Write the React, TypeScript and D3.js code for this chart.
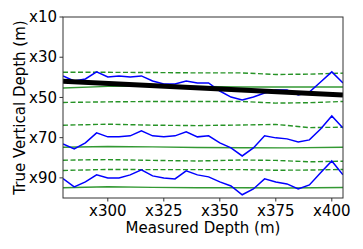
import * as d3 from "d3";

// measured depth samples (5 m spacing)
const md = [280, 285, 290, 295, 300, 305, 310, 315, 320, 325, 330, 335, 340, 345, 350, 355, 360, 365, 370, 375, 380, 385, 390, 395, 400, 405];

// picked horizons (blue)
const pickTop = [39.3, 41.8, 40.8, 37.3, 39.8, 39.3, 39.8, 39.3, 41.8, 43.3, 43.3, 41.8, 42.8, 42.8, 46.8, 49.8, 51.2, 49.8, 47.8, 46.3, 46.3, 48.8, 47.3, 42.3, 37.3, 42.8];
const pickMid = [73.1, 75.6, 72.6, 67.6, 69.6, 69.6, 69.1, 66.6, 69.1, 69.6, 69.1, 67.1, 69.6, 69.1, 72.6, 75.1, 79.1, 75.1, 69.1, 70.1, 70.6, 72.1, 71.1, 65.7, 59.2, 65.2];
const pickBot = [90.3, 94.5, 92.0, 88.5, 90.0, 90.0, 88.5, 86.0, 89.0, 90.0, 90.5, 86.5, 88.5, 89.5, 92.0, 94.0, 98.4, 95.5, 90.5, 92.0, 93.0, 95.5, 93.5, 87.5, 81.6, 88.5];

// model horizons (green solid)
const modelMd = [280, 300, 320, 340, 360, 380, 405];
const model1 = [45.3, 44.5, 44.3, 44.5, 44.8, 44.8, 44.8];
const model2 = [74.8, 74.4, 74.6, 74.9, 75.0, 75.1, 74.8];
const model3 = [94.9, 94.4, 94.7, 94.9, 94.9, 95.0, 94.8];

// uncertainty bounds (green dashed)
const boundMd = [280, 300, 320, 340, 360, 375, 390, 405];
const bound1 = [37.5, 37.5, 37.6, 37.8, 37.8, 38.6, 38.4, 37.9];
const bound2 = [52.5, 52.2, 52.0, 52.0, 52.0, 52.8, 52.6, 52.0];
const bound3 = [63.8, 63.3, 63.8, 64.0, 63.7, 63.4, 65.0, 64.8];
const bound4 = [81.2, 80.9, 81.3, 81.6, 81.1, 81.3, 82.0, 81.7];
const bound5 = [86.3, 85.8, 85.9, 85.9, 85.9, 86.2, 86.1, 85.8];

// well path
const wellMd = [280, 405];
const wellTvd = [42.0, 48.8];

const xTicks = [300, 325, 350, 375, 400];
const yTicks = [10, 30, 50, 70, 90];

export default function App() {
  const width = 363;
  const height = 249;
  const left = 63;
  const right = 343;
  const top = 17;
  const bottom = 198;

  const x = d3.scaleLinear().domain([280, 405]).range([left, right]);
  const y = d3.scaleLinear().domain([10, 100]).range([top, bottom]);

  const line = (xs: number[], ys: number[]) =>
    d3.line<number>()
      .x((_, i) => x(xs[i]))
      .y((d) => y(d))(ys) as string;

  const font = "DejaVu Sans, sans-serif";
  const fs = 15;

  return (
    <svg width={width} height={height} style={{ position: "absolute", left: 0, top: 0, background: "white" }}>
      <defs>
        <clipPath id="plot">
          <rect x={left} y={top} width={right - left} height={bottom - top} />
        </clipPath>
      </defs>
      <g clipPath="url(#plot)" fill="none">
        {[bound1, bound2, bound3, bound4, bound5].map((b, i) => (
          <path key={"b" + i} d={line(boundMd, b)} stroke="#008000" strokeWidth={1.4} strokeDasharray="5,2.5" opacity={0.85} />
        ))}
        {[model1, model2, model3].map((m, i) => (
          <path key={"m" + i} d={line(modelMd, m)} stroke="#008000" strokeWidth={1.4} opacity={0.8} />
        ))}
        {[pickTop, pickMid, pickBot].map((p, i) => (
          <path key={"p" + i} d={line(md, p)} stroke="#0000ff" strokeWidth={1.5} />
        ))}
        <path d={line(wellMd, wellTvd)} stroke="black" strokeWidth={5} />
      </g>

      {/* frame */}
      <rect x={left} y={top} width={right - left} height={bottom - top} fill="none" stroke="#333" strokeWidth={1} />

      {/* x axis */}
      {xTicks.map((t) => (
        <g key={t} transform={`translate(${x(t)},${bottom})`}>
          <line y2={3.5} stroke="#333" />
          <text y={17.5} textAnchor="middle" fontSize={fs} fontFamily={font}>
            {"x" + t}
          </text>
        </g>
      ))}
      {/* y axis */}
      {yTicks.map((t) => (
        <g key={t} transform={`translate(${left},${y(t)})`}>
          <line x2={-3.5} stroke="#333" />
          <text x={-6} dy="0.35em" textAnchor="end" fontSize={fs} fontFamily={font}>
            {"x" + t}
          </text>
        </g>
      ))}

      <text x={(left + right) / 2} y={233} textAnchor="middle" fontSize={fs} fontFamily={font}>
        Measured Depth (m)
      </text>
      <text
        transform={`translate(24.5,${(top + bottom) / 2}) rotate(-90)`}
        textAnchor="middle"
        fontSize={fs}
        fontFamily={font}
      >
        True Vertical Depth (m)
      </text>
    </svg>
  );
}
